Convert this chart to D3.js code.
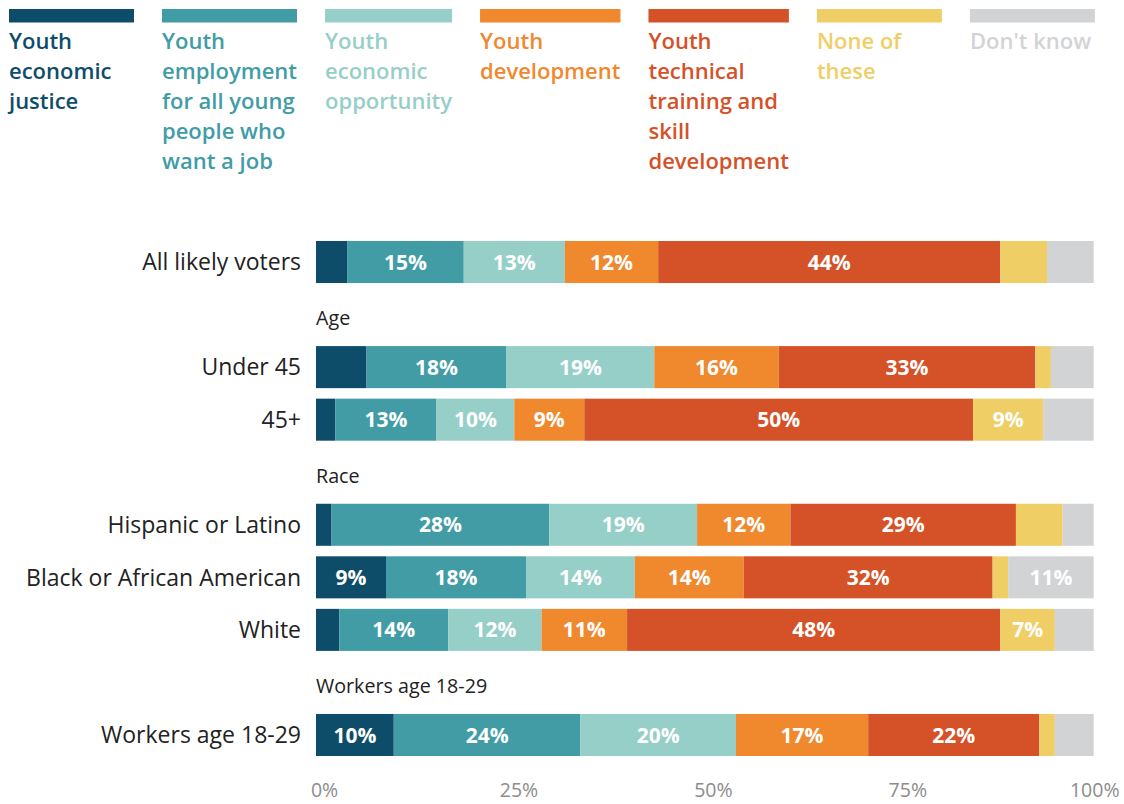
<!DOCTYPE html>
<html>
<head>
<meta charset="utf-8">
<script src="https://cdn.jsdelivr.net/npm/d3@7"></script>
<style>
  body { margin: 0; background: #fff; }
  svg { display: block; }
  text { font-family: "Open Sans", Lato, sans-serif; }
</style>
</head>
<body>
<svg id="chart" width="1124" height="804"></svg>
<script>
// ---- data -------------------------------------------------------------
const seriesKeys = ["justice", "employment", "opportunity", "development", "technical", "none", "dontKnow"];
const legendLines = [
  ["Youth", "economic", "justice"],
  ["Youth", "employment", "for all young", "people who", "want a job"],
  ["Youth", "economic", "opportunity"],
  ["Youth", "development"],
  ["Youth", "technical", "training and", "skill", "development"],
  ["None of", "these"],
  ["Don't know"]
];
const seriesColors = ["#0e4d6a", "#419ca5", "#96cfc7", "#f0882e", "#d55127", "#f0ce66", "#d2d3d5"];

const categories = ["All likely voters", "Under 45", "45+", "Hispanic or Latino",
                    "Black or African American", "White", "Workers age 18-29"];
const groupHeadings = ["Age", "Race", "Workers age 18-29"];   // shown above rows 1, 3 and 6
const headingBefore = [1, 3, 6];

const justice     = [4, 6.5, 2.5, 2, 9, 3, 10];
const employment  = [15, 18, 13, 28, 18, 14, 24];
const opportunity = [13, 19, 10, 19, 14, 12, 20];
const development = [12, 16, 9, 12, 14, 11, 17];
const technical   = [44, 33, 50, 29, 32, 48, 22];
const none        = [6, 2, 9, 6, 2, 7, 2];
const dontKnow    = [6, 5.5, 6.5, 4, 11, 5, 5];

const tickValues = [0, 25, 50, 75, 100];

// ---- table for the stack ---------------------------------------------
const table = categories.map((c, i) => ({
  category: c,
  justice: justice[i], employment: employment[i], opportunity: opportunity[i],
  development: development[i], technical: technical[i], none: none[i], dontKnow: dontKnow[i]
}));

// rows of the band scale: bars plus the group headings between them
const rows = [];
categories.forEach((c, i) => {
  const h = headingBefore.indexOf(i);
  if (h >= 0) rows.push({ id: "h" + h, type: "heading", label: groupHeadings[h] });
  rows.push({ id: "b" + i, type: "bar", label: c, index: i });
});

// ---- layout -----------------------------------------------------------
const svg = d3.select("#chart");
const W = 1124;
const x = d3.scaleLinear().domain([0, 100]).range([316, 1093.7]);
const y = d3.scaleBand().domain(rows.map(r => r.id)).range([241, 756]).paddingInner(0.2).paddingOuter(0);
const color = d3.scaleOrdinal().domain(seriesKeys).range(seriesColors);

// ---- legend -----------------------------------------------------------
const legend = svg.append("g").attr("class", "legend");
let lx = 9;
seriesKeys.forEach((k, i) => {
  const g = legend.append("g").attr("transform", `translate(${lx},0)`);
  const t = g.append("text")
    .attr("fill", color(k))
    .attr("font-size", 22)
    .attr("font-weight", 600);
  legendLines[i].forEach((line, j) => {
    t.append("tspan").attr("x", 0).attr("y", 48.5 + j * 30).text(line);
  });
  let maxW = 0;
  t.selectAll("tspan").each(function () { maxW = Math.max(maxW, this.getComputedTextLength()); });
  const sw = Math.max(125, maxW);
  g.insert("rect", "text")
    .attr("x", 0).attr("y", 9).attr("width", sw).attr("height", 13.5)
    .attr("fill", color(k));
  lx += sw + 28;
});

// ---- bars -------------------------------------------------------------
const stacked = d3.stack().keys(seriesKeys)(table);

const layers = svg.append("g").selectAll("g")
  .data(stacked)
  .join("g")
  .attr("fill", d => color(d.key));

layers.selectAll("rect")
  .data(d => d.map((s, i) => ({ s, i })))
  .join("rect")
  .attr("x", d => x(d.s[0]))
  .attr("y", d => y("b" + d.i))
  .attr("width", d => x(d.s[1]) - x(d.s[0]))
  .attr("height", y.bandwidth());

// value labels inside the segments
layers.selectAll("text")
  .data(d => d.map((s, i) => ({ s, i, v: s[1] - s[0] })).filter(d => d.v >= 7))
  .join("text")
  .attr("x", d => (x(d.s[0]) + x(d.s[1])) / 2)
  .attr("y", d => y("b" + d.i) + y.bandwidth() / 2)
  .attr("dy", "0.36em")
  .attr("text-anchor", "middle")
  .attr("fill", "#fff")
  .attr("font-size", 21)
  .attr("font-weight", 700)
  .text(d => Math.round(d.v) + "%");

// ---- category labels and group headings -------------------------------
svg.append("g").selectAll("text")
  .data(rows.filter(r => r.type === "bar"))
  .join("text")
  .attr("x", 301)
  .attr("y", r => y(r.id) + y.bandwidth() / 2)
  .attr("dy", "0.36em")
  .attr("text-anchor", "end")
  .attr("fill", "#222")
  .attr("font-size", 23)
  .text(r => r.label);

svg.append("g").selectAll("text")
  .data(rows.filter(r => r.type === "heading"))
  .join("text")
  .attr("x", x(0))
  .attr("y", r => y(r.id) + y.bandwidth() / 2 + 10.5)
  .attr("fill", "#222")
  .attr("font-size", 19.7)
  .text(r => r.label);

// ---- x axis -----------------------------------------------------------
const axis = svg.append("g")
  .attr("transform", "translate(0,797)")
  .call(d3.axisBottom(x).tickValues(tickValues).tickFormat(d => d + "%").tickSize(0).tickPadding(0));
axis.select(".domain").remove();
axis.selectAll("text")
  .attr("y", 0).attr("dy", 0)
  .attr("fill", "#8c8c8c")
  .attr("font-size", 19.5)
  .attr("font-family", "'Open Sans', Lato, sans-serif")
  .each(function (d) {
    // centre the number itself on the tick, keep the label inside the page
    const full = this.getComputedTextLength();
    const num = this.getSubStringLength(0, String(d).length);
    let dx = (full - num) / 2;
    const right = x(d) + full / 2 + dx;
    if (right > W - 5) dx -= right - (W - 5);
    d3.select(this).attr("dx", dx);
  });
</script>
</body>
</html>
